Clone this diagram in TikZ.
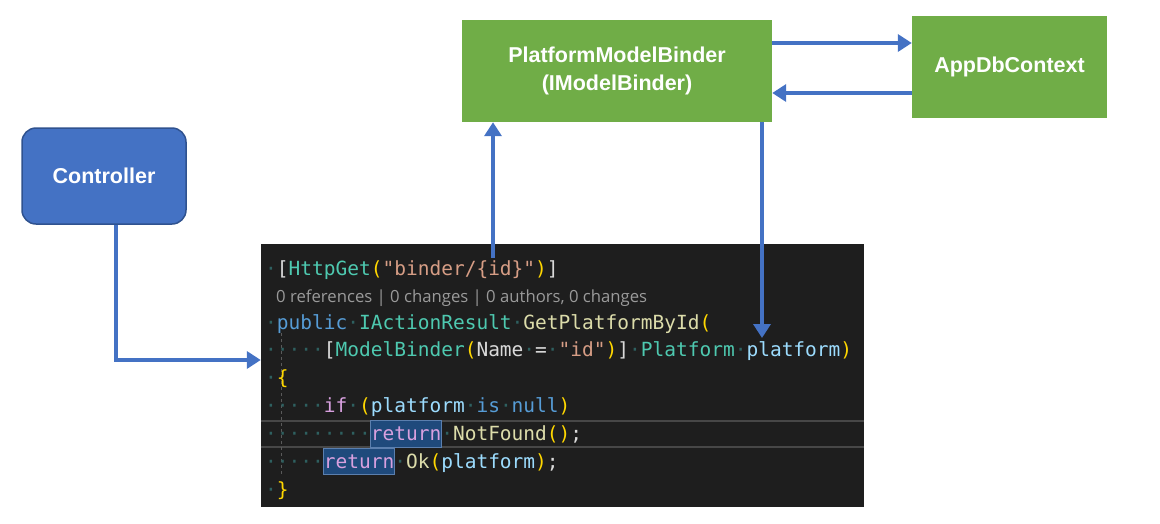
\documentclass[tikz,border=0pt]{standalone}
\usepackage{fontspec}
\setmainfont{Liberation Sans}
\newfontfamily\codefont{DejaVu Sans Mono}
\newfontfamily\lensfont{Open Sans}
\usetikzlibrary{arrows.meta,positioning}

\definecolor{boxblue}{HTML}{4472C4}
\definecolor{boxblueline}{HTML}{2F528F}
\definecolor{boxgreen}{HTML}{70AD47}
\definecolor{codebg}{HTML}{1E1E1E}
\definecolor{ctype}{HTML}{4EC9B0}
\definecolor{ckey}{HTML}{569CD6}
\definecolor{cmeth}{HTML}{DCDCAA}
\definecolor{cstr}{HTML}{D69D85}
\definecolor{cvar}{HTML}{9CDCFE}
\definecolor{cflow}{HTML}{D8A0DF}
\definecolor{cgold}{HTML}{FFD700}
\definecolor{cplain}{HTML}{DADADA}
\definecolor{cdot}{HTML}{2E6060}
\definecolor{clens}{HTML}{9A9A9A}
\definecolor{cguide}{HTML}{5A5A5A}
\definecolor{cline}{HTML}{474747}
\definecolor{csel}{HTML}{1F4A7C}
\definecolor{cselline}{HTML}{5B7FAE}

\newcommand{\wsd}{\textcolor{cdot}{·}}
\newcommand{\tk}[2]{\textcolor{#1}{#2}}

\tikzset{
    box/.style={inner sep=0pt, text=white, align=center,
        font=\bfseries\fontsize{21.5}{28}\selectfont},
    link/.style={draw=boxblue, line width=4pt,
        -{Triangle[width=17pt,length=14pt]}},
    codeline/.style={anchor=base west, inner sep=0pt, text=cplain,
        font=\codefont\fontsize{19.5}{19.5}\selectfont},
    selbox/.style={fill=csel, draw=cselline, line width=1pt}
}

\begin{document}
\begin{tikzpicture}[x=1pt, y=-1pt]
    \useasboundingbox (0,0) rectangle (1160,523);
    % boxes
    \node [box, fill=boxblue, draw=boxblueline, line width=1.5pt, rounded corners=14pt,
        minimum width=164pt, minimum height=96pt] (ctrl) at (104, 176) {Controller};
    \node [box, fill=boxgreen, minimum width=310pt, minimum height=102pt]
        (binder) at (617, 71) {PlatformModelBinder\\(IModelBinder)};
    \node [box, fill=boxgreen, minimum width=195pt, minimum height=102pt]
        (db) at (1009.5, 67) {AppDbContext};
    % code window
    \node [fill=codebg, inner sep=0pt, minimum width=603pt, minimum height=263pt]
        (code) at (562.5, 375.5) {};
    \draw [cline, line width=2pt] (code.west |- 0,421) -- (code.east |- 0,421);
    \draw [cline, line width=2pt] (code.west |- 0,447) -- (code.east |- 0,447);
    \draw [cguide, dashed, line width=1pt] (281, 333) -- (281, 476);
    \draw [selbox] (370, 420) rectangle (441, 447);
    \draw [selbox] (323, 448) rectangle (394, 474);
    \node [codeline] (l1) at (265, 275) {\wsd\tk{cplain}{[}\tk{ctype}{HttpGet}\tk{cgold}{(}\tk{cstr}{"binder/\{id\}"}\tk{cgold}{)}\tk{cplain}{]}};
    \node [codeline, text=clens, font=\lensfont\fontsize{16.7}{16.7}\selectfont]
        (l2) at (276, 302) {0 references | 0 changes | 0 authors, 0 changes};
    \node [codeline] (l3) at (265, 329) {\wsd\tk{ckey}{public}\wsd\tk{ctype}{IActionResult}\wsd\tk{cmeth}{GetPlatformById}\tk{cgold}{(}};
    \node [codeline] (l4) at (265, 356) {\wsd\wsd\wsd\wsd\wsd[\tk{ctype}{ModelBinder}\tk{cgold}{(}Name\wsd=\wsd\tk{cstr}{"id"}\tk{cgold}{)}]\wsd\tk{ctype}{Platform}\wsd\tk{cvar}{platform}\tk{cgold}{)}};
    \node [codeline] (l5) at (265, 384) {\wsd\tk{cgold}{\{}};
    \node [codeline] (l6) at (265, 412) {\wsd\wsd\wsd\wsd\wsd\tk{cflow}{if}\wsd\tk{cgold}{(}\tk{cvar}{platform}\wsd\tk{ckey}{is}\wsd\tk{ckey}{null}\tk{cgold}{)}};
    \node [codeline] (l7) at (265, 440) {\wsd\wsd\wsd\wsd\wsd\wsd\wsd\wsd\wsd\tk{cflow}{return}\wsd\tk{cmeth}{NotFound}\tk{cgold}{()};};
    \node [codeline] (l8) at (265, 468) {\wsd\wsd\wsd\wsd\wsd\tk{cflow}{return}\wsd\tk{cmeth}{Ok}\tk{cgold}{(}\tk{cvar}{platform}\tk{cgold}{)};};
    \node [codeline] (l9) at (265, 496) {\wsd\tk{cgold}{\}}};
    % connectors
    \coordinate (idref) at (493, 258);
    \coordinate (platref) at (762, 338);
    \draw [link] ([xshift=12pt]ctrl.south) |- ([yshift=15.5pt]code.west);
    \draw [link] (idref) -- (idref |- binder.south);
    \draw [link] (platref |- binder.south) -- (platref);
    \draw [link] ([yshift=28pt]binder.east) -- ([yshift=28pt]binder.east -| db.west);
    \draw [link] ([yshift=-22pt]binder.east -| db.west) -- ([yshift=-22pt]binder.east);
\end{tikzpicture}
\end{document}
